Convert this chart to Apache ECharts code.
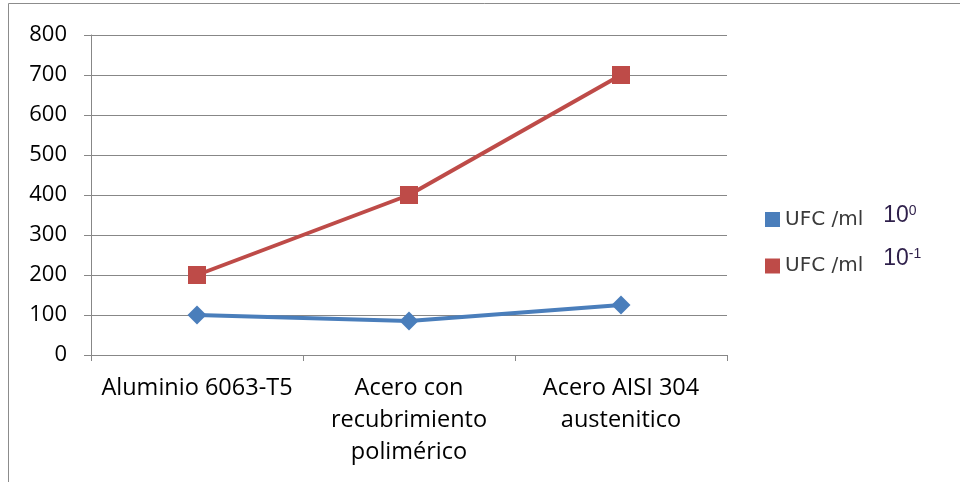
<!DOCTYPE html>
<html>
<head>
<meta charset="utf-8">
<script src="https://cdn.jsdelivr.net/npm/echarts@6/dist/echarts.min.js"></script>
<style>
html,body{margin:0;padding:0;background:#fff;}
#chart{width:960px;height:482px;}
</style>
</head>
<body>
<div id="chart"></div>
<script>
// Surfaces tested and colony counts at each dilution
const categories = ['Aluminio 6063-T5', 'Acero con\nrecubrimiento\npolimérico', 'Acero AISI 304\naustenitico'];
const dilution0 = [100, 85, 125];
const dilutionMinus1 = [200, 400, 700];
const seriesNames = ['UFC /ml 10^0', 'UFC /ml 10^-1'];
const exponents = ['0', '-1'];

const chart = echarts.init(document.getElementById('chart'), null, {renderer: 'canvas'});
const gridColor = '#878787';
const labelFont = '"Open Sans", "Noto Sans", sans-serif';
const powColor = '#2e1f4a';

// one legend entry per dilution; the power of ten sits a bit higher on the second row
function legendFor(i, top, raiseBase, raiseSup) {
  return {
    orient: 'vertical',
    left: 760,
    top: top,
    itemWidth: 15,
    itemHeight: 15,
    itemGap: 7,
    icon: 'rect',
    data: [seriesNames[i]],
    formatter: function () {
      return '{t|UFC /ml}{g|}{b|10}{s|' + exponents[i] + '}';
    },
    textStyle: {
      padding: 0,
      rich: {
        t: {fontFamily: '"DejaVu Sans", sans-serif', fontSize: 20, color: '#3a3a3a'},
        g: {width: 20},
        b: {fontFamily: '"Liberation Sans", Arial, sans-serif', fontSize: 23, color: powColor, padding: [0, 0, raiseBase * 2, 0]},
        s: {fontFamily: '"Liberation Sans", Arial, sans-serif', fontSize: 14, color: powColor, padding: [0, 0, raiseSup * 2, 0]}
      }
    }
  };
}

chart.setOption({
  animation: false,
  backgroundColor: '#fff',
  graphic: [{
    type: 'rect',
    shape: {x: 8.5, y: 3.5, width: 1000, height: 600},
    style: {fill: 'none', stroke: '#8c8c8c', lineWidth: 1},
    silent: true
  }],
  grid: {left: 91, right: 233, top: 35, bottom: 127},
  legend: [legendFor(0, 199, 3.5, 8.5), legendFor(1, 242, 7.5, 12)],
  xAxis: {
    type: 'category',
    data: categories,
    boundaryGap: true,
    axisLine: {lineStyle: {color: gridColor, width: 1}},
    axisTick: {show: true, length: 6, lineStyle: {color: gridColor}},
    axisLabel: {
      fontFamily: labelFont, fontSize: 23.5, color: '#000',
      lineHeight: 32, margin: 17, interval: 0
    }
  },
  yAxis: {
    type: 'value',
    min: 0, max: 800, interval: 100,
    axisLine: {show: true, lineStyle: {color: gridColor, width: 1}},
    axisTick: {show: true, length: 7, lineStyle: {color: gridColor}},
    splitLine: {lineStyle: {color: gridColor, width: 1}},
    axisLabel: {fontFamily: labelFont, fontSize: 22, color: '#000', margin: 24}
  },
  series: [{
    name: seriesNames[0],
    type: 'line',
    data: dilution0,
    symbol: 'diamond',
    symbolSize: 19,
    lineStyle: {color: '#4a7ebb', width: 4},
    itemStyle: {color: '#4a7ebb'},
    z: 3
  }, {
    name: seriesNames[1],
    type: 'line',
    data: dilutionMinus1,
    symbol: 'rect',
    symbolSize: 18,
    lineStyle: {color: '#be4b48', width: 4},
    itemStyle: {color: '#be4b48'},
    z: 2
  }]
});
</script>
</body>
</html>
